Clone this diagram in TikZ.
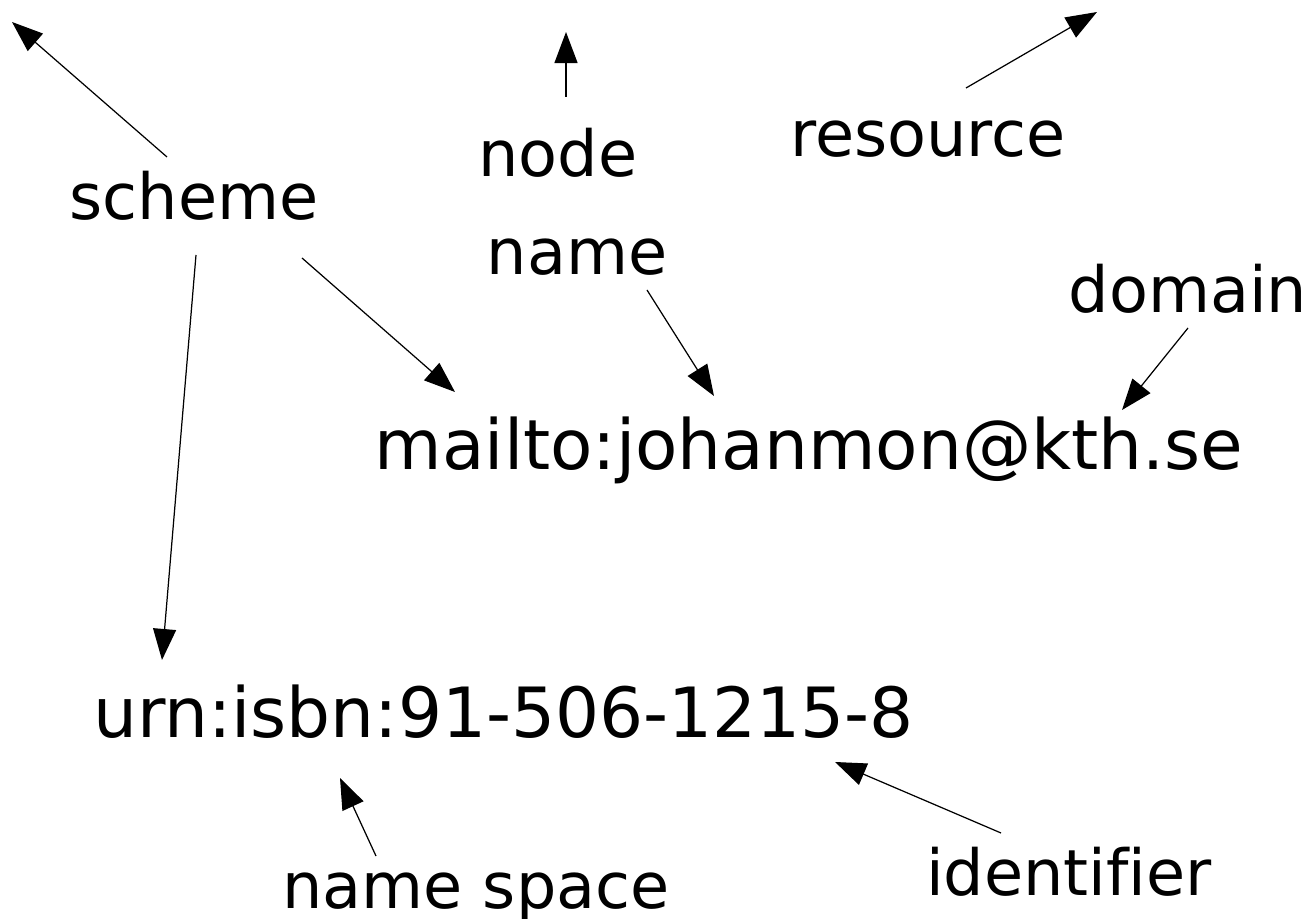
\documentclass[tikz,border=0pt]{standalone}
\usepackage{fontspec}
\setmainfont[Ligatures=NoCommon]{DejaVu Sans}
\usetikzlibrary{arrows.meta}

\begin{document}
\begin{tikzpicture}[
    x=0.01cm, y=-0.01cm,
    part/.style={anchor=base, inner sep=0pt, font=\fontsize{18.1}{20}\selectfont},
    uri/.style={anchor=base, inner sep=0pt, font=\fontsize{19.7}{22}\selectfont},
    arr/.style={-{Triangle[length=3.1mm,width=2.3mm]}, line width=0.35pt}]

\useasboundingbox (0,0) rectangle (1312,919);

% the two example URIs
\node[uri] (mailto) at (809,470) {mailto:johanmon@kth.se};
\node[uri] (urn)    at (503.5,738) {urn:isbn:91-506-1215-8};

% the labels naming the parts
\node[part] (scheme)   at (194,220)  {scheme};
\node[part] (node)     at (558,177)  {node};
\node[part] (resource) at (928,157)  {resource};
\node[part] (name)     at (577,275)  {name};
\node[part] (domain)   at (1188,313) {domain};
\node[part] (nspace)   at (476,908)  {name space};
\node[part] (ident)    at (1069,895) {identifier};

% arrows leading out of the picture
\coordinate (schemeout)   at (12,22);
\coordinate (nodeout)     at (566,32);
\coordinate (resourceout) at (1097,12);

\draw[arr] ([shift={(-27,-63)}]scheme.base) -- (schemeout);
\draw[arr] ([shift={(8,-80)}]node.base) -- (nodeout);
\draw[arr] ([shift={(38,-69)}]resource.base) -- (resourceout);

% mailto parts
\draw[arr] ([shift={(108,38)}]scheme.base) -- ([shift={(-354,-78)}]mailto.base);
\draw[arr] ([shift={(70,15)}]name.base) -- ([shift={(-95,-74)}]mailto.base);
\draw[arr] ([shift={(0,15)}]domain.base) -- ([shift={(313,-60)}]mailto.base);

% urn parts
\draw[arr] ([shift={(2,35)}]scheme.base) -- ([shift={(-341.5,-78)}]urn.base);
\draw[arr] ([shift={(-100,-52)}]nspace.base) -- ([shift={(-163.5,40)}]urn.base);
\draw[arr] ([shift={(-68,-62)}]ident.base) -- ([shift={(331.5,24)}]urn.base);

\end{tikzpicture}
\end{document}
